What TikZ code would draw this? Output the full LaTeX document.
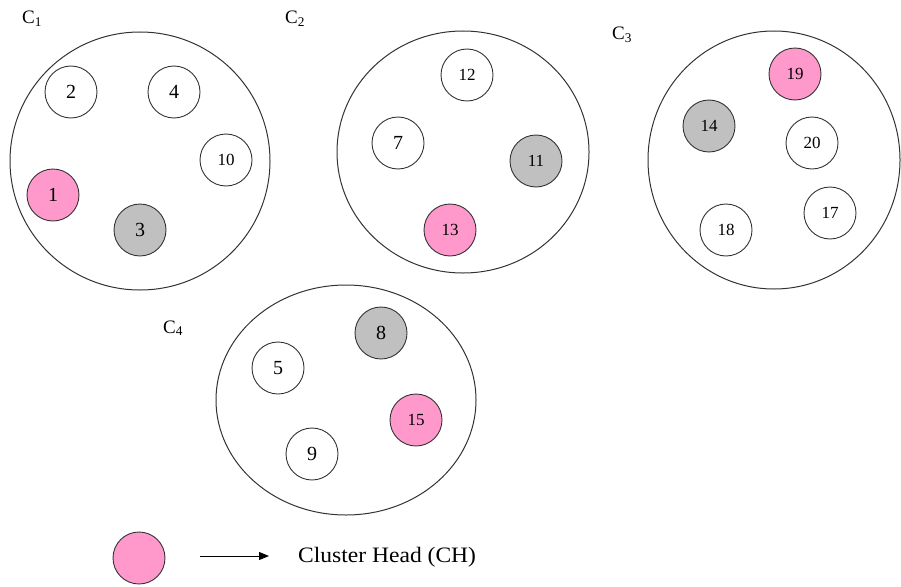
\documentclass[tikz,border=0pt]{standalone}
\usepackage{fontspec}
\setmainfont{Liberation Serif}
\usetikzlibrary{arrows.meta}
\definecolor{chpink}{HTML}{FF99CC}
\definecolor{cmgray}{HTML}{C0C0C0}
\definecolor{edge}{HTML}{333333}
\tikzset{
  sensor/.style={circle, draw=edge, line width=0.9pt, minimum size=52pt, inner sep=0pt, fill=white},
  head/.style={sensor, fill=chpink},
  member/.style={sensor, fill=cmgray},
  big/.style={font=\fontsize{20}{24}\selectfont},
  small/.style={font=\fontsize{17}{20}\selectfont},
  cluster/.style={draw=edge, line width=1pt},
  clabel/.style={anchor=base west, inner sep=0pt, font=\fontsize{19}{22}\selectfont},
}
\begin{document}
\begin{tikzpicture}[x=1pt, y=-1pt]
\useasboundingbox (0,0) rectangle (901,586);

% cluster C1
\draw[cluster] (140,161) ellipse [x radius=130, y radius=129];
\node[clabel] (lc1) at (22,24) {C\textsubscript{1}};
\node[sensor, big] (n2) at (71,92) {2};
\node[sensor, big] (n4) at (174,92) {4};
\node[sensor, small] (n10) at (226,160) {10};
\node[head, big] (n1) at (53,195) {1};
\node[member, big] (n3) at (140,230) {3};

% cluster C2
\draw[cluster] (463,152) ellipse [x radius=126, y radius=121];
\node[clabel] (lc2) at (285,24) {C\textsubscript{2}};
\node[sensor, small] (n12) at (467,75) {12};
\node[sensor, big] (n7) at (398,143) {7};
\node[member, small] (n11) at (536,161) {11};
\node[head, small] (n13) at (450,230) {13};

% cluster C3
\draw[cluster] (774,160) ellipse [x radius=126, y radius=129];
\node[clabel] (lc3) at (612,40) {C\textsubscript{3}};
\node[head, small] (n19) at (795,74) {19};
\node[member, small] (n14) at (709,126) {14};
\node[sensor, small] (n20) at (812,143) {20};
\node[sensor, small] (n17) at (830,213) {17};
\node[sensor, small] (n18) at (726,230) {18};

% cluster C4
\draw[cluster] (346,400) ellipse [x radius=130, y radius=115];
\node[clabel] (lc4) at (163,333) {C\textsubscript{4}};
\node[member, big] (n8) at (381,333) {8};
\node[sensor, big] (n5) at (278,368) {5};
\node[head, small] (n15) at (416,420) {15};
\node[sensor, big] (n9) at (312,454) {9};

% legend
\node[head] (key) at (139,558) {};
\coordinate (ka) at (200,556);
\coordinate (kb) at (269,556);
\draw[line width=1pt, -{Triangle[length=10pt, width=8pt]}] (ka) -- (kb);
\node[anchor=base west, inner sep=0pt, xscale=1.07, font=\fontsize{22}{26}\selectfont] (keytext) at (298,562) {Cluster Head (CH)};
\end{tikzpicture}
\end{document}
